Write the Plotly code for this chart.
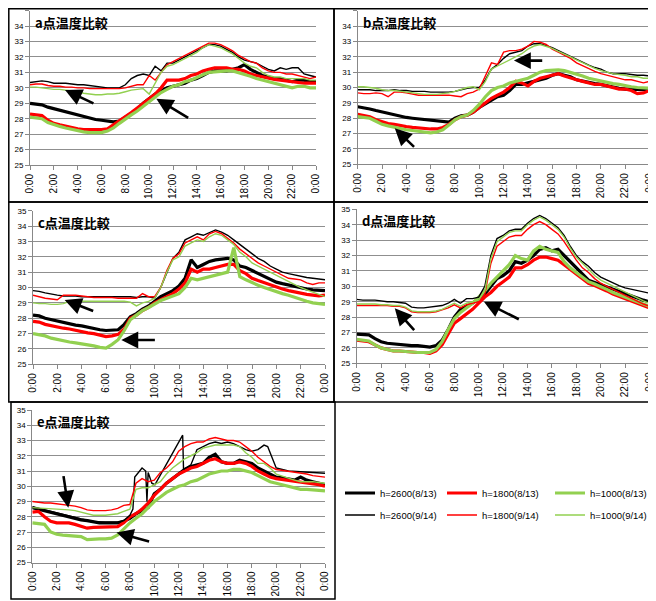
import plotly.graph_objects as go

# ---------------- data ----------------
TIME = [0, 0.5, 1, 1.5, 2, 2.5, 3, 3.5, 4, 4.5, 5, 5.5, 6, 6.5, 7, 7.5, 8, 8.5, 9, 9.5,
        10, 10.5, 11, 11.5, 12, 12.5, 13, 13.5, 14, 14.5, 15, 15.5, 16, 16.5, 17, 17.5,
        18, 18.5, 19, 19.5, 20, 20.5, 21, 21.5, 22, 22.5, 23, 23.5, 24]
TICK_HOURS = [0, 2, 4, 6, 8, 10, 12, 14, 16, 18, 20, 22, 24]
TICK_LABELS = ["0:00", "2:00", "4:00", "6:00", "8:00", "10:00", "12:00", "14:00",
               "16:00", "18:00", "20:00", "22:00", "0:00"]
SERIES_NAMES = ["h=2600(8/13)", "h=1800(8/13)", "h=1000(8/13)",
                "h=2600(9/14)", "h=1800(9/14)", "h=1000(9/14)"]
PANEL_TITLES = ["a点温度比較", "b点温度比較", "c点温度比較", "d点温度比較", "e点温度比較"]

# panel a
A_K8 = [29.0,28.95,28.9,28.75,28.65,28.5,28.4,28.3,28.2,28.1,28.05,27.95,27.9,27.85,27.8,27.85,28.1,28.3,28.6,29.0,29.3,29.6,29.8,30.0,30.1,30.2,30.3,30.5,30.6,30.8,31.0,31.1,31.1,31.1,31.2,31.3,31.5,31.2,31.0,30.8,30.7,30.6,30.6,30.5,30.4,30.5,30.5,30.4,30.4]
A_R8 = [28.3,28.25,28.2,27.9,27.7,27.6,27.5,27.45,27.35,27.3,27.3,27.25,27.3,27.35,27.6,27.9,28.1,28.4,28.7,29.0,29.3,29.6,30.0,30.5,30.5,30.5,30.6,30.8,30.9,31.1,31.2,31.3,31.3,31.3,31.2,31.2,31.1,30.9,30.8,30.7,30.6,30.55,30.5,30.45,30.4,30.35,30.3,30.3,30.3]
A_G8 = [28.1,28.05,28.0,27.75,27.6,27.5,27.4,27.3,27.2,27.15,27.1,27.1,27.1,27.2,27.4,27.7,28.0,28.25,28.5,28.8,29.1,29.4,29.7,29.9,30.1,30.2,30.4,30.5,30.7,30.85,31.0,31.05,31.1,31.1,31.1,31.0,30.9,30.75,30.6,30.5,30.4,30.3,30.2,30.1,30.0,30.1,30.1,30.0,30.0]
A_K9 = [30.35,30.4,30.45,30.4,30.3,30.3,30.3,30.25,30.2,30.2,30.15,30.1,30.05,30.0,30.0,30.0,30.2,30.6,30.8,30.9,30.8,31.4,31.1,31.6,31.6,31.8,32.0,32.2,32.4,32.6,32.8,32.8,32.7,32.5,32.3,32.0,31.8,31.7,31.6,31.4,31.2,31.1,31.3,31.2,31.3,31.3,30.9,30.8,30.7]
A_R9 = [30.2,30.25,30.25,30.15,30.1,30.1,30.05,30.05,30.0,30.0,29.95,29.95,29.95,29.95,29.95,29.95,30.0,30.1,30.2,30.2,30.8,30.5,31.0,31.5,31.7,31.9,32.1,32.3,32.5,32.7,32.9,32.9,32.8,32.6,32.4,32.1,31.9,31.7,31.6,31.3,31.1,31.0,31.0,30.9,30.9,30.8,30.7,30.6,30.7]
A_G9 = [30.05,30.05,30.0,29.95,29.9,29.9,29.85,29.8,29.75,29.65,29.6,29.55,29.55,29.6,29.6,29.65,29.75,29.85,29.9,29.95,29.6,30.3,31.0,31.4,31.5,31.7,31.9,32.1,32.3,32.6,32.8,32.7,32.6,32.4,32.2,31.9,31.6,31.4,31.3,31.0,30.8,30.7,30.7,30.6,30.6,30.6,30.6,30.5,30.5]

# panel b
B_K8 = [28.75,28.7,28.6,28.5,28.4,28.3,28.2,28.15,28.05,28.0,27.95,27.9,27.85,27.8,27.75,27.75,28.0,28.15,28.2,28.4,28.7,28.95,29.2,29.4,29.5,29.8,30.2,30.2,30.3,30.4,30.5,30.6,30.8,30.9,30.8,30.7,30.5,30.4,30.3,30.25,30.2,30.1,30.0,29.95,29.9,29.9,29.9,29.85,29.85]
B_R8 = [28.25,28.2,28.1,27.9,27.75,27.65,27.6,27.5,27.45,27.4,27.35,27.3,27.3,27.3,27.4,27.6,27.9,28.1,28.2,28.4,28.7,29.0,29.3,29.5,29.7,30.0,30.4,30.3,30.1,30.4,30.6,30.7,30.8,30.9,30.75,30.6,30.5,30.4,30.3,30.2,30.2,30.1,30.0,29.9,29.9,29.8,29.6,29.65,29.8]
B_G8 = [28.1,28.05,28.0,27.8,27.6,27.5,27.4,27.3,27.25,27.2,27.15,27.1,27.05,27.1,27.25,27.55,27.9,28.1,28.2,28.5,28.9,29.4,29.8,30.0,30.1,30.3,30.4,30.5,30.6,30.8,31.0,31.1,31.15,31.15,31.1,31.0,30.9,30.75,30.6,30.5,30.4,30.3,30.25,30.2,30.1,30.05,30.0,30.0,29.95]
B_K9 = [29.85,29.85,29.85,29.8,29.8,29.8,29.85,29.8,29.8,29.75,29.75,29.75,29.7,29.7,29.7,29.7,29.75,29.85,29.95,30.0,30.0,30.5,31.2,31.5,31.9,32.2,32.3,32.4,32.7,32.85,32.85,32.75,32.6,32.4,32.2,32.0,31.8,31.6,31.45,31.3,31.2,31.0,30.9,30.9,30.9,30.85,30.8,30.8,30.75]
B_R9 = [29.65,29.6,29.6,29.65,29.6,29.4,29.7,29.7,29.65,29.55,29.5,29.5,29.5,29.5,29.5,29.5,29.45,29.4,29.6,29.7,29.9,30.7,31.6,31.5,32.3,32.4,32.4,32.5,32.7,33.0,32.95,32.8,32.5,32.3,32.1,31.9,31.6,31.4,31.2,31.05,30.9,30.8,30.7,30.6,30.5,30.5,30.4,30.3,30.4]
B_G9 = [30.05,30.05,30.0,29.95,29.85,29.8,29.8,29.75,29.7,29.65,29.6,29.55,29.55,29.55,29.6,29.65,29.75,29.9,30.0,30.05,29.85,30.4,31.2,31.4,31.6,31.8,32.0,32.2,32.5,32.7,32.8,32.7,32.55,32.35,32.2,32.0,31.8,31.6,31.4,31.25,31.1,31.0,30.9,30.85,30.8,30.7,30.7,30.6,30.6]

# panel c
C_K8 = [28.2,28.15,28.0,27.9,27.8,27.7,27.65,27.55,27.5,27.4,27.35,27.25,27.2,27.2,27.25,27.6,28.1,28.3,28.6,28.8,29.1,29.4,29.6,29.8,30.1,30.6,31.8,31.3,31.5,31.7,31.8,31.85,31.9,31.8,31.4,31.3,31.1,30.9,30.7,30.5,30.35,30.25,30.15,30.05,29.95,29.9,29.85,29.8,29.8]
C_R8 = [27.8,27.75,27.6,27.5,27.4,27.35,27.3,27.2,27.15,27.05,27.0,26.9,26.8,26.85,26.95,27.3,28.0,28.2,28.5,28.7,29.0,29.2,29.4,29.6,29.9,30.3,31.2,31.0,31.2,31.2,31.3,31.4,31.5,31.5,31.1,30.9,30.6,30.45,30.3,30.15,30.0,29.9,29.8,29.7,29.6,29.55,29.5,29.45,29.5]
C_G8 = [27.0,26.95,26.85,26.7,26.6,26.55,26.45,26.4,26.35,26.3,26.2,26.1,26.05,26.3,26.6,27.2,27.9,28.2,28.5,28.7,28.95,29.15,29.3,29.45,29.6,30.0,30.6,30.5,30.6,30.7,30.8,30.9,31.0,32.6,30.7,30.5,30.3,30.15,30.0,29.85,29.75,29.6,29.5,29.35,29.2,29.1,29.0,28.95,28.9]
C_K9 = [29.8,29.75,29.65,29.55,29.5,29.45,29.45,29.45,29.4,29.4,29.4,29.4,29.4,29.4,29.4,29.4,29.4,29.35,29.4,29.4,29.3,30.0,31.0,31.9,32.3,33.1,33.3,33.5,33.4,33.6,33.75,33.6,33.4,33.1,32.8,32.5,32.2,31.9,31.7,31.4,31.2,31.0,30.9,30.8,30.7,30.65,30.6,30.55,30.5]
C_R9 = [29.5,29.4,29.3,29.25,29.2,29.5,29.5,29.5,29.45,29.4,29.35,29.35,29.35,29.35,29.3,29.3,29.3,29.3,29.6,29.4,29.4,30.0,31.1,31.9,32.2,32.9,33.1,33.3,33.1,33.5,33.65,33.5,33.2,32.9,32.5,32.2,31.9,31.6,31.4,31.2,31.0,30.8,30.6,30.55,30.5,30.3,30.2,30.3,30.3]
C_G9 = [29.0,28.95,28.95,28.9,28.9,28.95,29.1,29.1,29.1,29.1,29.1,29.1,29.1,29.1,29.1,29.1,29.05,28.8,29.0,29.1,29.3,30.0,31.0,31.8,32.0,32.7,32.9,33.1,33.0,33.3,33.5,33.4,33.1,32.8,32.3,32.0,31.6,31.4,31.2,31.0,30.8,30.6,30.4,30.2,30.0,29.85,29.7,29.55,29.4]

# panel d
D_K8 = [26.9,26.85,26.85,26.6,26.4,26.3,26.25,26.2,26.2,26.15,26.15,26.1,26.05,26.15,26.5,27.2,28.0,28.5,28.7,28.9,29.2,29.5,30.0,30.5,30.7,31.0,31.6,31.5,31.7,32.0,32.4,32.5,32.3,32.4,32.0,31.6,31.2,30.8,30.4,30.25,30.1,29.95,29.8,29.65,29.5,29.35,29.2,29.1,29.0]
D_R8 = [26.5,26.45,26.4,26.2,26.0,25.9,25.8,25.8,25.75,25.7,25.7,25.7,25.65,25.8,26.2,26.9,27.6,27.9,28.2,28.5,28.9,29.3,29.6,30.0,30.3,30.6,31.2,31.2,31.4,31.7,31.9,31.9,31.8,31.7,31.4,31.1,30.8,30.5,30.2,30.05,29.9,29.7,29.5,29.35,29.2,29.05,28.9,28.75,28.6]
D_G8 = [26.55,26.5,26.45,26.2,26.0,25.9,25.8,25.8,25.75,25.7,25.7,25.7,25.7,25.9,26.4,27.2,27.9,28.3,28.6,28.9,29.3,29.7,30.2,30.6,31.0,31.4,32.0,31.8,31.7,32.3,32.6,32.4,32.3,32.2,31.6,31.2,30.9,30.6,30.3,30.15,30.0,29.8,29.6,29.45,29.3,29.15,29.0,28.85,28.7]
D_K9 = [29.15,29.1,29.1,29.1,29.05,29.0,29.0,28.95,28.9,28.65,28.6,28.6,28.65,28.7,28.75,28.9,29.15,28.9,29.2,29.2,29.3,30.0,32.0,33.1,33.3,33.6,33.7,33.7,34.1,34.4,34.6,34.4,34.1,33.8,33.3,32.6,32.0,31.6,31.3,30.9,30.6,30.4,30.2,30.05,29.9,29.8,29.7,29.6,29.55]
D_R9 = [28.75,28.75,28.75,28.75,28.75,28.75,28.7,28.7,28.6,28.35,28.3,28.3,28.3,28.35,28.45,28.6,28.8,28.6,28.8,28.9,29.0,29.5,31.5,32.6,32.9,33.2,33.3,33.3,33.7,34.0,34.2,34.0,33.7,33.4,32.9,32.3,31.7,31.2,30.9,30.5,30.2,30.0,29.8,29.6,29.4,29.2,29.0,28.85,28.7]
D_G9 = [28.85,28.85,28.85,28.85,28.8,28.8,28.75,28.75,28.65,28.4,28.35,28.35,28.35,28.4,28.5,28.7,28.9,28.7,28.9,29.0,29.1,29.7,31.8,32.9,33.2,33.5,33.6,33.6,34.0,34.3,34.5,34.3,34.0,33.7,33.2,32.5,31.9,31.5,31.1,30.7,30.4,30.2,30.0,29.8,29.6,29.4,29.2,29.05,28.9]

# panel e
E_K8 = [28.6,28.5,28.4,28.3,28.15,28.05,27.95,27.9,27.8,27.75,27.65,27.6,27.6,27.6,27.6,27.7,27.9,28.2,28.4,28.6,29.5,29.8,30.2,30.5,30.8,31.1,31.3,31.4,31.5,31.9,32.1,31.6,31.5,31.5,31.7,31.6,31.5,31.2,31.0,30.8,30.6,30.55,30.5,30.4,30.6,30.4,30.3,30.2,30.1]
E_R8 = [28.3,28.35,28.0,27.7,27.6,27.6,27.6,27.5,27.4,27.25,27.3,27.3,27.3,27.3,27.35,27.6,28.0,28.2,28.5,28.9,29.4,29.8,30.2,30.5,30.8,31.0,31.2,31.3,31.5,31.7,31.8,31.6,31.5,31.5,31.6,31.5,31.3,31.0,30.8,30.6,30.5,30.45,30.4,30.35,30.3,30.25,30.2,30.1,30.0]
E_G8 = [27.6,27.55,27.5,27.0,26.85,26.8,26.75,26.75,26.7,26.5,26.55,26.55,26.55,26.6,26.8,27.2,27.6,27.9,28.2,28.6,29.0,29.3,29.6,29.8,30.0,30.1,30.3,30.4,30.6,30.8,30.9,31.0,31.0,31.1,31.1,31.0,30.9,30.7,30.5,30.3,30.2,30.1,30.0,29.9,29.8,29.8,29.75,29.7,29.7]
E_K9_TIME = [0, 1, 2, 3, 4, 5, 6, 7, 7.5, 8, 8.25, 8.4, 9.0, 9.3, 9.4, 9.5, 9.8, 10.05, 12.33, 12.4,
             13.0, 13.5, 14.0, 14.5, 15.0, 15.5, 16.0, 16.5, 17.0, 17.5, 18.0, 18.5, 19.0, 19.3,
             19.6, 20.0, 20.5, 21.0, 22.0, 23.0, 24.0]
E_K9 = [28.65,28.45,28.2,28.0,27.85,27.7,27.65,27.65,27.75,28.1,28.5,30.6,31.2,31.0,29.0,30.9,30.2,30.1,33.35,31.1,
        31.4,32.4,32.6,32.8,32.9,32.8,32.9,32.8,32.6,32.4,32.3,32.4,32.7,32.6,
        32.0,31.2,31.1,31.0,30.95,30.9,30.85]
E_R9 = [29.0,28.95,28.9,28.9,28.85,28.8,28.75,28.7,28.6,28.45,28.4,28.4,28.4,28.45,28.55,28.75,28.8,30.2,30.5,30.3,30.4,30.9,31.2,31.6,32.3,32.6,32.8,32.9,32.9,33.1,33.2,33.1,33.0,33.0,32.9,32.6,32.3,31.9,31.6,31.3,31.1,31.05,31.0,30.95,30.9,30.8,30.7,30.65,30.6]
E_G9 = [28.6,28.58,28.55,28.5,28.5,28.48,28.45,28.4,28.3,28.2,28.1,28.1,28.1,28.15,28.2,28.35,28.5,29.8,29.9,29.9,30.1,30.3,30.8,31.2,31.5,31.8,32.0,32.2,32.5,32.6,32.7,32.7,32.7,32.7,32.6,32.2,31.9,31.5,31.5,31.2,30.8,30.65,30.5,30.4,30.3,30.3,30.3,30.25,30.2]

# arrows: (tail_hour, tail_temp, tip_hour, tip_temp)
A_ARROWS = [(5.45, 28.95, 2.94, 29.86), (13.4, 28.0, 10.6, 29.3)]
B_ARROWS = [(4.76, 26.04, 3.05, 27.34), (15.3, 31.75, 12.85, 31.75)]
C_ARROWS = [(5.07, 28.43, 2.6, 29.19), (10.14, 26.58, 7.26, 26.58)]
D_ARROWS = [(4.82, 27.06, 3.12, 28.57), (13.41, 27.81, 10.43, 29.0)]
E_ARROWS = [(2.54, 30.76, 2.95, 28.59), (9.7, 26.35, 6.91, 26.96)]

# ---------------- layout helpers ----------------
PAGE_W, PAGE_H = 656, 601
OFF = 8                      # the html body margin shifts the figure by 8px
W, H = PAGE_W - OFF, PAGE_H - OFF
COLORS = ["#000000", "#FF0000", "#92D050"]


def fx(px):
    return min(max((px - OFF) / W, 0.0), 1.0)


def fy(py):
    return min(max(1 - (py - OFF) / H, 0.0), 1.0)


# plot-area pixel boxes on the page (left, right, top, bottom) and panel frames
PLOT_BOXES = [(30, 316, 10.7, 165), (357.7, 649.5, 10.7, 164.3), (33, 325, 210.7, 364.3),
              (356.7, 649.5, 209.3, 363.3), (32.3, 325, 410, 562.5)]
FRAMES = [(8.8, 334, 8.8, 202), (334, 655, 8.8, 202), (8.8, 334, 202, 402), (334, 655, 202, 402),
          (11, 335, 402, 599)]
# legend entry anchor points on the page (left x, centre y), one per series
LEGEND_POS = [(340, 493), (442, 493), (550, 493), (340, 515), (442, 515), (550, 515)]

panels = [
    ([(TIME, A_K8), (TIME, A_R8), (TIME, A_G8), (TIME, A_K9), (TIME, A_R9), (TIME, A_G9)], A_ARROWS),
    ([(TIME, B_K8), (TIME, B_R8), (TIME, B_G8), (TIME, B_K9), (TIME, B_R9), (TIME, B_G9)], B_ARROWS),
    ([(TIME, C_K8), (TIME, C_R8), (TIME, C_G8), (TIME, C_K9), (TIME, C_R9), (TIME, C_G9)], C_ARROWS),
    ([(TIME, D_K8), (TIME, D_R8), (TIME, D_G8), (TIME, D_K9), (TIME, D_R9), (TIME, D_G9)], D_ARROWS),
    ([(TIME, E_K8), (TIME, E_R8), (TIME, E_G8), (E_K9_TIME, E_K9), (TIME, E_R9), (TIME, E_G9)], E_ARROWS),
]
LEGEND_IDS = ["legend", "legend2", "legend3", "legend4", "legend5", "legend6"]

fig = go.Figure()
layout_axes = {}
annotations = []
shapes = []
FONT = "Liberation Sans, Arial, sans-serif"

for p, (series, arrows) in enumerate(panels):
    n = "" if p == 0 else str(p + 1)
    xa, ya = "x" + n, "y" + n
    l, r, t, b = PLOT_BOXES[p]
    layout_axes["xaxis" + n] = dict(
        domain=[fx(l), fx(r)], anchor=ya, range=[0, 24], tickmode="array",
        tickvals=TICK_HOURS, ticktext=TICK_LABELS, tickangle=-90, automargin=False,
        showgrid=False, zeroline=False, showline=True, linecolor="#888888", linewidth=1,
        ticks="outside", ticklen=4, tickcolor="#888888",
        tickfont=dict(size=10, color="#000000", family=FONT), fixedrange=True)
    layout_axes["yaxis" + n] = dict(
        domain=[fy(b), fy(t)], anchor=xa, range=[25, 35], dtick=1, tick0=25,
        showgrid=True, gridcolor="#8f8f8f", gridwidth=1, zeroline=False, automargin=False,
        showline=True, linecolor="#888888", linewidth=1, ticks="outside", ticklen=4,
        tickcolor="#888888", tickfont=dict(size=8, color="#000000", family=FONT),
        fixedrange=True)
    for s, (tx, vals) in enumerate(series):
        thick = s < 3
        fig.add_trace(go.Scatter(
            x=tx, y=vals, mode="lines", name=SERIES_NAMES[s],
            showlegend=(p == 0), legend=LEGEND_IDS[s],
            xaxis=xa, yaxis=ya,
            line=dict(color=COLORS[s % 3], width=3.2 if thick else 1.4)))
    annotations.append(dict(
        text="<b>" + PANEL_TITLES[p] + "</b>", xref=xa + " domain", yref=ya + " domain",
        x=0.01, y=0.925, xanchor="left", yanchor="middle", showarrow=False,
        font=dict(size=13, color="#000000", family="Noto Sans CJK JP")))
    for (th, tv, hh, hv) in arrows:
        annotations.append(dict(
            x=hh, y=hv, ax=th, ay=tv, xref=xa, yref=ya, axref=xa, ayref=ya, text="",
            showarrow=True, arrowhead=2, arrowsize=1.3, arrowwidth=2.6, arrowcolor="#000000"))
    fl, fr, ft, fb = FRAMES[p]
    shapes.append(dict(type="rect", xref="paper", yref="paper", x0=fx(fl), x1=fx(fr),
                       y0=fy(fb), y1=fy(ft), line=dict(color="#000000", width=1.5)))

legends = {}
for lid, (lx, ly) in zip(LEGEND_IDS, LEGEND_POS):
    legends[lid] = dict(x=fx(lx), y=fy(ly), xanchor="left", yanchor="middle",
                        orientation="h", itemwidth=30,
                        font=dict(size=9.5, color="#000000", family=FONT),
                        bgcolor="rgba(255,255,255,0)", borderwidth=0)

fig.update_layout(
    template="none",
    width=W, height=H, autosize=False,
    margin=dict(l=0, r=0, t=0, b=0, pad=0),
    paper_bgcolor="#ffffff", plot_bgcolor="#ffffff",
    annotations=annotations, shapes=shapes,
    showlegend=True,
    **legends,
    **layout_axes,
)

fig.write_html("out.html")
